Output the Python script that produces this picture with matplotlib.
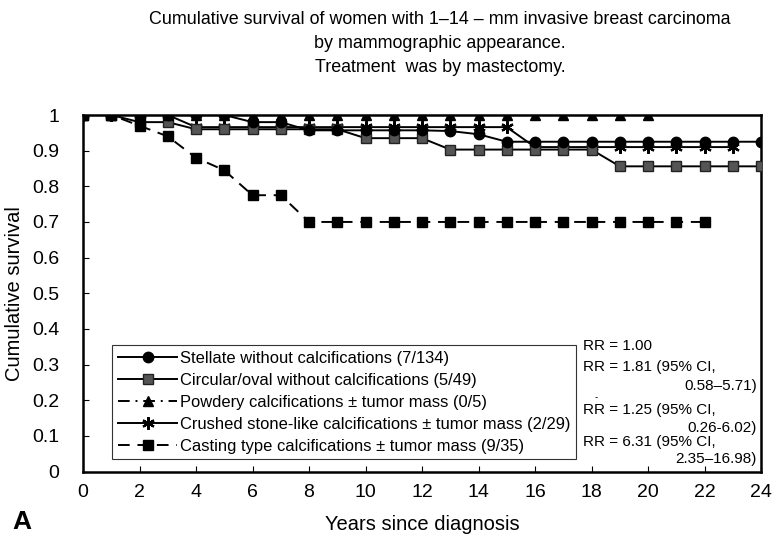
import matplotlib
matplotlib.use("Agg")
import matplotlib.pyplot as plt
import numpy as np

plt.rcParams['font.family'] = ['Liberation Sans', 'DejaVu Sans']

years = list(range(0, 25))

stellate = [1, 1, 1, 1, 1, 1, 0.98, 0.98, 0.957, 0.957, 0.957, 0.957, 0.957,
            0.955, 0.946, 0.925, 0.925, 0.925, 0.925, 0.925, 0.925, 0.925,
            0.925, 0.925, 0.925]
circular = [1, 1, 0.98, 0.98, 0.96, 0.96, 0.96, 0.96, 0.96, 0.96, 0.935, 0.935,
            0.935, 0.903, 0.903, 0.903, 0.903, 0.903, 0.903, 0.856, 0.856,
            0.856, 0.856, 0.856, 0.856]
powdery = [1] * 21
crushed = [1, 1, 1, 1, 0.966, 0.966, 0.966, 0.966, 0.966, 0.966, 0.966, 0.966,
           0.966, 0.966, 0.966, 0.966, 0.91, 0.91, 0.91, 0.91, 0.91, 0.91,
           0.91, 0.91]
casting = [1, 1, 0.97, 0.94, 0.88, 0.845, 0.775, 0.775, 0.70, 0.70, 0.70,
           0.70, 0.70, 0.70, 0.70, 0.70, 0.70, 0.70, 0.70, 0.70, 0.70, 0.70,
           0.70]

labels = [
    "Stellate without calcifications (7/134)",
    "Circular/oval without calcifications (5/49)",
    "Powdery calcifications \u00b1 tumor mass (0/5)",
    "Crushed stone-like calcifications \u00b1 tumor mass (2/29)",
    "Casting type calcifications \u00b1 tumor mass (9/35)",
]

rr_lines = [
    ("RR = 1.00", None),
    ("RR = 1.81 (95% CI,", "0.58\u20135.71)"),
    ("RR = 1.25 (95% CI,", "0.26-6.02)"),
    ("RR = 6.31 (95% CI,", "2.35\u201316.98)"),
]

title = ("Cumulative survival of women with 1\u201314 \u2013 mm invasive breast carcinoma\n"
         "by mammographic appearance.\n"
         "Treatment  was by mastectomy.")

W, H = 772, 546
fig = plt.figure(figsize=(W / 100, H / 100), dpi=100)
ax = fig.add_axes([83 / W, 1 - 471.5 / H, (761 - 83) / W, (471.5 - 115) / H])

lw = 1.4
h1, = ax.plot(years[:len(stellate)], stellate, color='black', lw=lw,
              marker='o', ms=7.5, mfc='black', mec='black', zorder=5)
h2, = ax.plot(years[:len(circular)], circular, color='black', lw=lw,
              marker='s', ms=7, mfc='#555555', mec='#222222', zorder=4)
h3, = ax.plot(years[:len(powdery)], powdery, color='black', lw=lw,
              linestyle=(0, (6, 3, 1, 3)),
              marker='^', ms=7.5, mfc='black', mec='black', zorder=6)
h4, = ax.plot(years[:len(crushed)], crushed, color='black', lw=lw,
              marker=(6, 2, 0), ms=9, mec='black', mew=1.6, zorder=3)
h5, = ax.plot(years[:len(casting)], casting, color='black', lw=lw,
              linestyle=(0, (6, 4)),
              marker='s', ms=7, mfc='black', mec='black', zorder=7)

ax.set_xlim(0, 24)
ax.set_ylim(0, 1)
ax.set_xticks(range(0, 25, 2))
yt = np.round(np.arange(0, 1.01, 0.1), 1)
ax.set_yticks(yt)
ax.set_yticklabels(["%g" % v for v in yt])
ax.tick_params(direction='in', length=4, width=0.8, labelsize=14)
ax.tick_params(axis='x', pad=9)
ax.tick_params(axis='y', pad=17)
for s in ax.spines.values():
    s.set_linewidth(1.8)

ax.set_xlabel("Years since diagnosis", fontsize=14.5, labelpad=10)
ax.set_ylabel("Cumulative survival", fontsize=14.5, labelpad=6)

fig.text(440 / W, 1 - 11 / H, title, ha='center', va='top', fontsize=12.9,
         linespacing=1.55)
fig.text(12 / W, 1 - 522 / H, "A", fontsize=19, fontweight='bold',
         ha='left', va='center')

leg = ax.legend([h1, h2, h3, h4, h5], labels, loc='upper left',
                bbox_to_anchor=(112 / W, 1 - 345 / H),
                bbox_transform=fig.transFigure, fontsize=11.9,
                handlelength=3.6, handletextpad=0.15, labelspacing=0.42,
                borderpad=0.35, borderaxespad=0, fancybox=False,
                edgecolor='#333333', framealpha=1)
leg.get_frame().set_linewidth(0.8)

rr_x = 583 / W
rr_y = [346, 367, 410, 442]
cont_y = [None, 386, 428, 459]
for (main, cont), y, cy in zip(rr_lines, rr_y, cont_y):
    fig.text(rr_x, 1 - y / H, main, fontsize=11, ha='left', va='center')
    if cont is not None:
        fig.text(757 / W, 1 - cy / H, cont, fontsize=11, ha='right',
                 va='center')
fig.text(596 / W, 1 - 397 / H, "-", fontsize=7, ha='center', va='center')

fig.savefig("out.png", dpi=100)
